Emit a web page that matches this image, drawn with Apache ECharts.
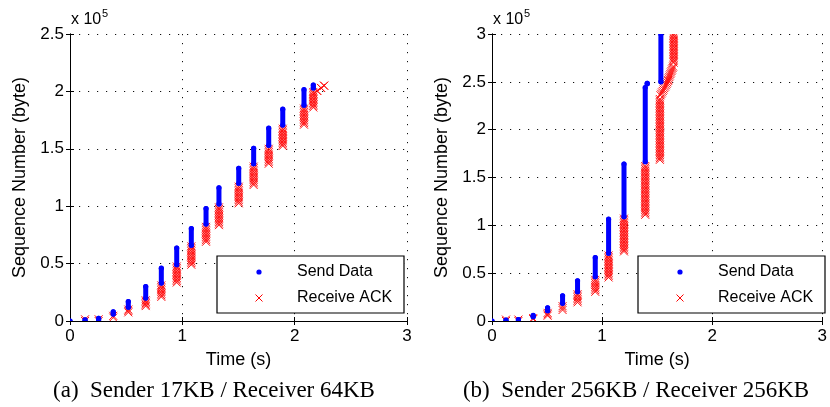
<!DOCTYPE html>
<html>
<head>
<meta charset="utf-8">
<script src="https://cdn.jsdelivr.net/npm/echarts@6/dist/echarts.min.js"></script>
<style>html,body{margin:0;padding:0;background:#fff}#c{width:830px;height:407px}</style>
</head>
<body>
<div id="c"></div>
<script>
// ---- Data (a): Sender 17KB / Receiver 64KB ----
const sendA_time = [0, 0.134, 0.255, 0.385, 0.519, 0.674, 0.813, 0.95, 1.08, 1.211, 1.326, 1.502, 1.635, 1.769, 1.894, 2.083, 2.166];
const sendA_low  = [0, 0, 1000, 6000, 12000, 20000, 33000, 49000, 66000, 84500, 102000, 120000, 137000, 153000, 170700, 188000, 203000];
const sendA_high = [0, 1000, 2400, 8000, 17000, 30000, 46000, 63500, 80500, 98000, 116000, 133000, 150500, 168000, 184500, 201500, 205500];

const ackA_time0 = [0.134, 0.255, 0.385, 0.519, 0.674, 0.813, 0.95, 1.08, 1.211, 1.326, 1.502, 1.635, 1.769, 1.894, 2.083, 2.166, 2.20, 2.235, 2.262];
const ackA_time1 = [0.134, 0.255, 0.385, 0.519, 0.674, 0.813, 0.95, 1.08, 1.211, 1.326, 1.502, 1.635, 1.769, 1.894, 2.083, 2.166, 2.20, 2.235, 2.262];
const ackA_low   = [0, 0, 3000, 7500, 13000, 21000, 33500, 49000, 69000, 83500, 102500, 118500, 137000, 152500, 171000, 186000, 200500, 203000, 205000];
const ackA_high  = [1500, 1500, 4500, 10000, 18000, 31000, 47500, 65000, 82000, 99000, 117000, 134500, 150000, 167500, 185000, 199500, 200500, 203000, 205000];

// ---- Data (b): Sender 256KB / Receiver 256KB ----
const sendB_time = [0, 0.127, 0.24, 0.374, 0.505, 0.641, 0.777, 0.938, 1.059, 1.199, 1.392, 1.41, 1.534];
const sendB_low  = [0, 0, 1000, 4500, 10800, 18500, 30700, 46300, 70800, 109000, 166500, 248000, 250000];
const sendB_high = [0, 1000, 1500, 5800, 13800, 26400, 42000, 66400, 106400, 164000, 244000, 248500, 300000];

const ackB_time0 = [0.127, 0.24, 0.374, 0.505, 0.641, 0.777, 0.938, 1.059, 1.199, 1.392, 1.525, 1.53, 1.60, 1.65];
const ackB_time1 = [0.127, 0.24, 0.374, 0.505, 0.641, 0.777, 0.938, 1.059, 1.199, 1.392, 1.525, 1.60, 1.645, 1.65];
const ackB_low   = [0, 0, 2000, 5500, 11500, 19500, 30500, 45500, 72700, 111000, 168500, 236000, 252000, 270000];
const ackB_high  = [1500, 1500, 3000, 8500, 15500, 28000, 43000, 68500, 107000, 162000, 232000, 251000, 266000, 300000];

// ---- Axis ticks ----
const xTicks = [0, 1, 2, 3];
const yTicksA = [0, 0.5, 1, 1.5, 2, 2.5];
const yTicksB = [0, 0.5, 1, 1.5, 2, 2.5, 3];
const yScale = 1e5;

const captionA = '(a)  Sender 17KB / Receiver 64KB';
const captionB = '(b)  Sender 256KB / Receiver 256KB';
const legendNames = ['Send Data', 'Receive ACK'];

function zip(a, b, c, d) {
  return a.map((v, i) => d ? [v, b[i], c[i], d[i]] : [v, b[i], c[i]]);
}

function renderSend(params, api) {
  const t = api.value(0);
  const p0 = api.coord([t, api.value(1)]);
  const p1 = api.coord([t, api.value(2)]);
  return {
    type: 'group',
    children: [
      { type: 'line', shape: { x1: p0[0], y1: p0[1], x2: p1[0], y2: p1[1] }, style: { stroke: '#0000ff', lineWidth: 5, lineCap: 'round' } },
      { type: 'circle', shape: { cx: p0[0], cy: p0[1], r: 2.6 }, style: { fill: '#0000ff' } },
      { type: 'circle', shape: { cx: p1[0], cy: p1[1], r: 2.6 }, style: { fill: '#0000ff' } }
    ]
  };
}

function renderAck(params, api) {
  const p0 = api.coord([api.value(0), api.value(2)]);
  const p1 = api.coord([api.value(1), api.value(3)]);
  const dx = p1[0] - p0[0], dy = p1[1] - p0[1];
  const len = Math.sqrt(dx * dx + dy * dy);
  const n = Math.max(1, Math.round(len / 1.6));
  const h = 4;
  const children = [];
  for (let k = 0; k <= n; k++) {
    const x = p0[0] + dx * k / n, y = p0[1] + dy * k / n;
    children.push({ type: 'line', shape: { x1: x - h, y1: y - h, x2: x + h, y2: y + h }, style: { stroke: '#ff1010', lineWidth: 1 } });
    children.push({ type: 'line', shape: { x1: x + h, y1: y - h, x2: x - h, y2: y + h }, style: { stroke: '#ff1010', lineWidth: 1 } });
  }
  return { type: 'group', children };
}

const font = 'Liberation Sans, Arial, sans-serif';
const axisLine = { show: true, lineStyle: { color: '#000', width: 1 } };
const axisTick = { show: true, inside: true, length: 4, lineStyle: { color: '#000' } };
const splitLine = { show: true, lineStyle: { color: '#111', width: 1, type: [1.2, 7.8] } };

function xAxes(gi, maxv) {
  return [
    { type: 'value', gridIndex: gi, min: 0, max: maxv, interval: 1, position: 'bottom',
      name: 'Time (s)', nameLocation: 'middle', nameGap: 30,
      nameTextStyle: { fontSize: 18, fontFamily: font, color: '#000' },
      axisLine, axisTick, splitLine,
      axisLabel: { fontSize: 17, fontFamily: font, color: '#000', margin: 7, showMinLabel: true, showMaxLabel: true } },
    { type: 'value', gridIndex: gi, min: 0, max: maxv, interval: 1, position: 'top',
      axisLine, axisTick, splitLine: { show: false }, axisLabel: { show: false } }
  ];
}
function yAxes(gi, maxv) {
  return [
    { type: 'value', gridIndex: gi, min: 0, max: maxv, interval: 0.5 * yScale, position: 'left',
      name: 'Sequence Number (byte)', nameLocation: 'middle', nameGap: 41,
      nameTextStyle: { fontSize: 18, fontFamily: font, color: '#000' },
      axisLine, axisTick, splitLine,
      axisLabel: { fontSize: 17, fontFamily: font, color: '#000', margin: 6, formatter: v => String(Math.round(v / yScale * 10) / 10) } },
    { type: 'value', gridIndex: gi, min: 0, max: maxv, interval: 0.5 * yScale, position: 'right',
      axisLine, axisTick, splitLine: { show: false }, axisLabel: { show: false } }
  ];
}

function legendGraphic(x, y) {
  return [
    { type: 'rect', z: 100, shape: { x: x, y: y, width: 187, height: 57 }, style: { fill: '#fff', stroke: '#000', lineWidth: 1.2 } },
    { type: 'circle', z: 101, shape: { cx: x + 42, cy: y + 16, r: 2.6 }, style: { fill: '#0000ff' } },
    { type: 'text', z: 101, x: x + 80, y: y + 16, style: { text: legendNames[0], fontSize: 16, fontFamily: font, fill: '#000', verticalAlign: 'middle' } },
    { type: 'line', z: 101, shape: { x1: x + 42 - 3.5, y1: y + 42 - 3.5, x2: x + 42 + 3.5, y2: y + 42 + 3.5 }, style: { stroke: '#ff0000', lineWidth: 1 } },
    { type: 'line', z: 101, shape: { x1: x + 42 + 3.5, y1: y + 42 - 3.5, x2: x + 42 - 3.5, y2: y + 42 + 3.5 }, style: { stroke: '#ff0000', lineWidth: 1 } },
    { type: 'text', z: 101, x: x + 80, y: y + 42, style: { text: legendNames[1], fontSize: 16, fontFamily: font, fill: '#000', verticalAlign: 'middle' } }
  ];
}

function expLabel(x) {
  return [
    { type: 'text', x: x, y: 12, style: { text: 'x 10', fontSize: 16, fontFamily: font, fill: '#000', verticalAlign: 'top' } },
    { type: 'text', x: x + 31, y: 8, style: { text: '5', fontSize: 11, fontFamily: font, fill: '#000', verticalAlign: 'top' } }
  ];
}

const chart = echarts.init(document.getElementById('c'), null, { renderer: 'canvas' });
chart.setOption({
  animation: false,
  backgroundColor: '#fff',
  grid: [
    { left: 70, top: 34, width: 337, height: 287 },
    { left: 492, top: 34, width: 337, height: 287 }
  ],
  xAxis: [...xAxes(0, 3), ...xAxes(1, 3)],
  yAxis: [...yAxes(0, yTicksA[yTicksA.length - 1] * yScale), ...yAxes(1, yTicksB[yTicksB.length - 1] * yScale)],
  series: [
    { type: 'custom', name: legendNames[1], xAxisIndex: 0, yAxisIndex: 0, clip: true, z: 2,
      data: zip(ackA_time0, ackA_time1, ackA_low, ackA_high), renderItem: renderAck },
    { type: 'custom', name: legendNames[0], xAxisIndex: 0, yAxisIndex: 0, clip: true, z: 3,
      data: zip(sendA_time, sendA_low, sendA_high), renderItem: renderSend },
    { type: 'custom', name: legendNames[1], xAxisIndex: 2, yAxisIndex: 2, clip: true, z: 2,
      data: zip(ackB_time0, ackB_time1, ackB_low, ackB_high), renderItem: renderAck },
    { type: 'custom', name: legendNames[0], xAxisIndex: 2, yAxisIndex: 2, clip: true, z: 3,
      data: zip(sendB_time, sendB_low, sendB_high), renderItem: renderSend }
  ],
  graphic: [
    ...expLabel(71),
    ...expLabel(493),
    ...legendGraphic(217, 256),
    ...legendGraphic(638, 256),
    { type: 'text', x: 214, y: 391, style: { text: captionA, fontSize: 23, fontFamily: 'Liberation Serif, Times New Roman, serif', fill: '#000', align: 'center', verticalAlign: 'middle' } },
    { type: 'text', x: 636, y: 391, style: { text: captionB, fontSize: 23, fontFamily: 'Liberation Serif, Times New Roman, serif', fill: '#000', align: 'center', verticalAlign: 'middle' } }
  ]
});
</script>
</body>
</html>
